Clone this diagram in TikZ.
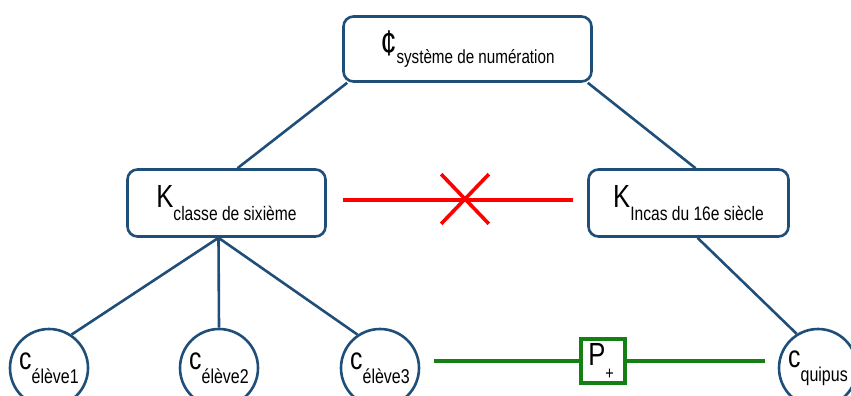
\documentclass[tikz,border=0pt]{standalone}
\usepackage{fontspec}
\setmainfont{Liberation Sans}[FakeStretch=0.8]
\usetikzlibrary{shapes.geometric,shapes.misc,calc,backgrounds}
\definecolor{nblue}{RGB}{31,78,121}
\definecolor{ngreen}{RGB}{20,128,20}
\definecolor{nred}{RGB}{255,0,0}
\newcommand{\fsz}[1]{\fontsize{#1}{#1}\selectfont}
\begin{document}
\begin{tikzpicture}[x=1pt,y=-1pt,
  rbox/.style={draw=nblue,line width=2.6pt,rounded corners=10pt,fill=white,inner sep=0pt},
  ell/.style={draw=nblue,line width=2.6pt,circle,fill=white,inner sep=0pt,minimum size=78pt},
  link/.style={draw=nblue,line width=2.6pt},
  redl/.style={draw=nred,line width=4pt},
  greenl/.style={draw=ngreen,line width=3.6pt},
  pbox/.style={draw=ngreen,line width=3.8pt,fill=white,inner sep=0pt,minimum width=44pt,minimum height=44pt},
  xmark/.style={cross out,draw=nred,line width=3.6pt,inner sep=0pt,minimum width=44pt,minimum height=46pt}]
\useasboundingbox (0,0) rectangle (851,396);
\clip (0,0) rectangle (851,396);
\node[rbox,minimum width=248pt,minimum height=65pt] (top) at (467.5,49)
  {\raisebox{-2pt}{\fsz{36}¢\raisebox{-8pt}{\fsz{19}système de numération}}};
\node[rbox,minimum width=198pt,minimum height=67pt] (kl) at (226.5,203)
  {\raisebox{-2pt}{\fsz{32}K\raisebox{-13pt}{\fsz{19.5}classe de sixième}}};
\node[rbox,minimum width=200pt,minimum height=67pt] (kr) at (688.5,203)
  {\raisebox{-2pt}{\fsz{32}K\raisebox{-13pt}{\fsz{19.5}Incas du 16e siècle}}};
\node[ell] (c1) at (49,368) {\raisebox{1pt}{\fsz{31}c\raisebox{-14pt}{\fsz{20}élève1}}};
\node[ell] (c2) at (219,368) {\raisebox{1pt}{\fsz{31}c\raisebox{-14pt}{\fsz{20}élève2}}};
\node[ell] (c3) at (380,368) {\raisebox{1pt}{\fsz{31}c\raisebox{-14pt}{\fsz{20}élève3}}};
\node[ell] (cq) at (818,368) {\raisebox{1pt}{\fsz{31}c\raisebox{-14pt}{\fsz{20}quipus}}};
\node[pbox] (p) at (603,361) {\hspace{-4pt}\fsz{32}P\raisebox{-14pt}{\fsz{18}+}};
\node[xmark] (xx) at (465,199) {};
\coordinate (g1) at (434,361);
\coordinate (g2) at (765,361);
\coordinate (jl) at ($(kl.south)+(-8,0)$);
\coordinate (jr) at ($(kr.south)+(9,0)$);
\begin{scope}[on background layer]
\draw[link] ($(top.south west)+(5,0)$) -- ($(kl.north)+(11,0)$);
\draw[link] ($(top.south east)+(-5,0)$) -- ($(kr.north)+(7,0)$);
\draw[link] (jl) -- (c1.56);
\draw[link] (jl) -- (c2.north);
\draw[link] (jl) -- (c3.124);
\draw[link] (jr) -- (cq.122);
\end{scope}
\draw[redl] ($(kl.east)+(16,-3)$) -- ($(kr.west)+(-14,-3)$);
\draw[greenl] (g1) -- (p.west);
\draw[greenl] (p.east) -- (g2);
\end{tikzpicture}
\end{document}
